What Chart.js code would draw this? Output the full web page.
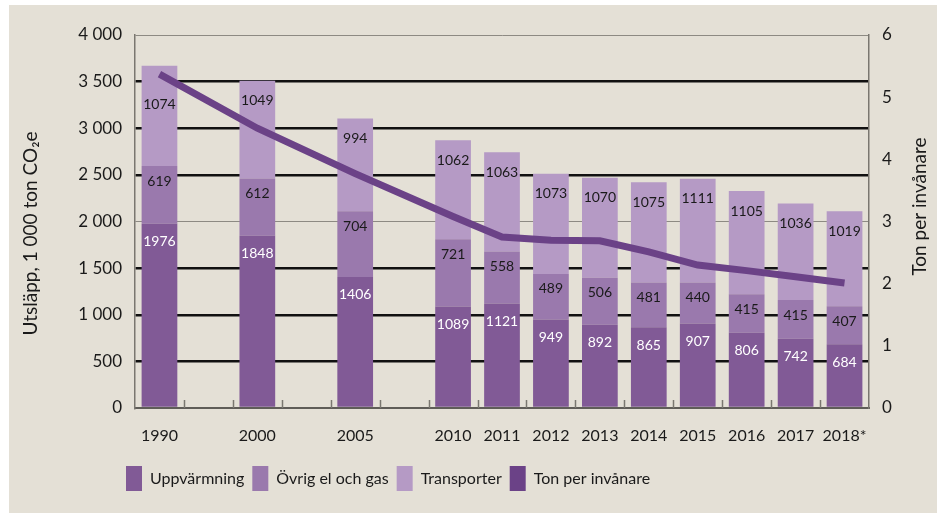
<!DOCTYPE html>
<html><head><meta charset="utf-8">
<script src="https://cdn.jsdelivr.net/npm/chart.js@4.4.1/dist/chart.umd.min.js"></script>
<style>
html,body{margin:0;padding:0;background:#fff;width:937px;height:513px;overflow:hidden;}
#wrap{position:absolute;left:9px;top:5px;width:928px;height:508px;background:#e4e0d6;}
canvas{display:block}
</style></head><body>
<div id="wrap"><canvas id="c" width="928" height="508"></canvas></div>
<script>
const categories = ['1990','','2000','','2005','','2010','2011','2012','2013','2014','2015','2016','2017','2018*'];
const uppvarmning = [1976,null,1848,null,1406,null,1089,1121,949,892,865,907,806,742,684];
const ovrigElOchGas = [619,null,612,null,704,null,721,558,489,506,481,440,415,415,407];
const transporter = [1074,null,1049,null,994,null,1062,1063,1073,1070,1075,1111,1105,1036,1019];
const tonPerInvanare = [5.37,null,4.5,null,3.77,null,3.08,2.75,2.7,2.69,2.51,2.3,2.21,2.11,2.01];
const leftTicks = ['0','500','1 000','1 500','2 000','2 500','3 000','3 500','4 000'];
const rightTicks = ['0','1','2','3','4','5','6'];
const leftTitle = 'Utsläpp, 1 000 ton CO₂e';
const rightTitle = 'Ton per invånare';
const seriesNames = ['Uppvärmning','Övrig el och gas','Transporter','Ton per invånare'];

const C_UPP = '#815a96', C_OVR = '#9a79ad', C_TRA = '#b59ac5', C_LINE = '#6b4287';
const AXIS_GRAY = '#7a7770', TEXT = '#1a1a1a';
const FONT = "Lato, 'Open Sans', sans-serif";
Chart.defaults.font.family = FONT;
Chart.defaults.color = TEXT;

const labelCfg = [
  {offset: 18, color: '#ffffff'},
  {offset: 15, color: TEXT},
  {offset: 20, color: TEXT}
];

const segLabels = {
  id: 'segLabels',
  afterDatasetDraw(chart, args) {
    const di = args.index;
    if (di > 2) return;
    const ctx = chart.ctx;
    const ds = chart.data.datasets[di];
    const meta = chart.getDatasetMeta(di);
    const lineMeta = chart.getDatasetMeta(3);
    ctx.save();
    ctx.font = '14px ' + FONT;
    ctx.textAlign = 'center';
    ctx.textBaseline = 'middle';
    ctx.fillStyle = labelCfg[di].color;
    meta.data.forEach((el, i) => {
      const v = ds.data[i];
      if (v == null) return;
      let y = el.y + labelCfg[di].offset;
      const lp = lineMeta.data[i];
      if (lp && !lp.skip && Math.abs(lp.y - y) < 14) y = lp.y + 30;
      ctx.fillText(String(v), el.x, y);
    });
    ctx.restore();
  }
};

const slotTicks = {
  id: 'slotTicks',
  beforeDatasetsDraw(chart) {
    const xs = chart.scales.x;
    const n = categories.length;
    const slot = (xs.right - xs.left) / n;
    const ctx = chart.ctx;
    const b = chart.chartArea.bottom;
    ctx.save();
    ctx.strokeStyle = AXIS_GRAY;
    ctx.lineWidth = 1.5;
    ctx.beginPath();
    for (let i = 1; i < n; i++) {
      const x = Math.round(xs.left + i * slot) + 0.5;
      ctx.moveTo(x, b);
      ctx.lineTo(x, b - 8);
    }
    ctx.stroke();
    ctx.restore();
  }
};

const axisTitles = {
  id: 'axisTitles',
  afterDraw(chart) {
    const ctx = chart.ctx;
    const a = chart.chartArea;
    const mid = (a.top + a.bottom) / 2;
    ctx.save();
    ctx.font = '19px ' + FONT;
    ctx.fillStyle = TEXT;
    ctx.textAlign = 'center';
    ctx.textBaseline = 'middle';
    ctx.save();
    ctx.translate(22, mid + 12);
    ctx.rotate(-Math.PI / 2);
    ctx.fillText(leftTitle, 0, 0);
    ctx.restore();
    ctx.save();
    ctx.translate(chart.width - 17, mid - 15);
    ctx.rotate(-Math.PI / 2);
    ctx.fillText(rightTitle, 0, 0);
    ctx.restore();
    ctx.restore();
  }
};

const legendShift = {
  id: 'legendShift',
  afterLayout(chart) {
    const lg = chart.legend;
    const w = lg.right - lg.left;
    lg.left = 109;
    lg.right = lg.left + w;
  }
};

function isGrayLine(v) { return v === 2000 || v === 4000; }

new Chart(document.getElementById('c'), {
  data: {
    labels: categories,
    datasets: [
      {type: 'bar', label: seriesNames[0], data: uppvarmning, backgroundColor: C_UPP, yAxisID: 'y', stack: 's', barPercentage: 0.73, categoryPercentage: 1, order: 1},
      {type: 'bar', label: seriesNames[1], data: ovrigElOchGas, backgroundColor: C_OVR, yAxisID: 'y', stack: 's', barPercentage: 0.73, categoryPercentage: 1, order: 1},
      {type: 'bar', label: seriesNames[2], data: transporter, backgroundColor: C_TRA, yAxisID: 'y', stack: 's', barPercentage: 0.73, categoryPercentage: 1, order: 1},
      {type: 'line', label: seriesNames[3], data: tonPerInvanare, borderColor: C_LINE, backgroundColor: C_LINE, borderWidth: 7, pointRadius: 0, pointHoverRadius: 0, spanGaps: true, tension: 0, yAxisID: 'y1', order: 0, borderCapStyle: 'butt', borderJoinStyle: 'miter'}
    ]
  },
  options: {
    responsive: false,
    animation: false,
    layout: {padding: {top: 30, right: 0, bottom: 12, left: 0}},
    plugins: {
      tooltip: {enabled: false},
      legend: {
        position: 'bottom',
        align: 'start',
        labels: {
          boxWidth: 16, boxHeight: 25, padding: 8,
          font: {size: 16}, color: TEXT,
          sort: (a, b) => a.datasetIndex - b.datasetIndex,
          generateLabels(chart) {
            const items = Chart.defaults.plugins.legend.labels.generateLabels(chart);
            items.forEach(it => { it.lineWidth = 0; it.strokeStyle = 'rgba(0,0,0,0)'; it.lineDash = []; });
            return items;
          }
        }
      }
    },
    scales: {
      x: {
        stacked: true,
        grid: {display: false, drawTicks: false},
        border: {display: true, color: '#5f5d58', width: 2},
        ticks: {color: TEXT, font: {size: 16}, padding: 18, maxRotation: 0, autoSkip: false},
        afterFit(s) { s.height = 50; }
      },
      y: {
        position: 'left',
        stacked: true,
        min: 0, max: 4000,
        ticks: {stepSize: 500, padding: 13, color: TEXT, font: {size: 17}, callback: v => leftTicks[v / 500]},
        grid: {
          drawTicks: false,
          color: c => c.tick.value === 0 ? 'rgba(0,0,0,0)' : (isGrayLine(c.tick.value) ? '#8d8a83' : '#111111'),
          lineWidth: c => isGrayLine(c.tick.value) ? 1 : 2.5
        },
        border: {display: true, color: AXIS_GRAY, width: 1.5},
        afterFit(s) { s.width = 126; }
      },
      y1: {
        position: 'right',
        min: 0, max: 6,
        ticks: {stepSize: 1, padding: 13, color: TEXT, font: {size: 17}, callback: v => rightTicks[v]},
        grid: {drawOnChartArea: false, drawTicks: false},
        border: {display: true, color: AXIS_GRAY, width: 1.5},
        afterFit(s) { s.width = 68; }
      }
    }
  },
  plugins: [segLabels, slotTicks, axisTitles, legendShift]
});
</script>
</body></html>
